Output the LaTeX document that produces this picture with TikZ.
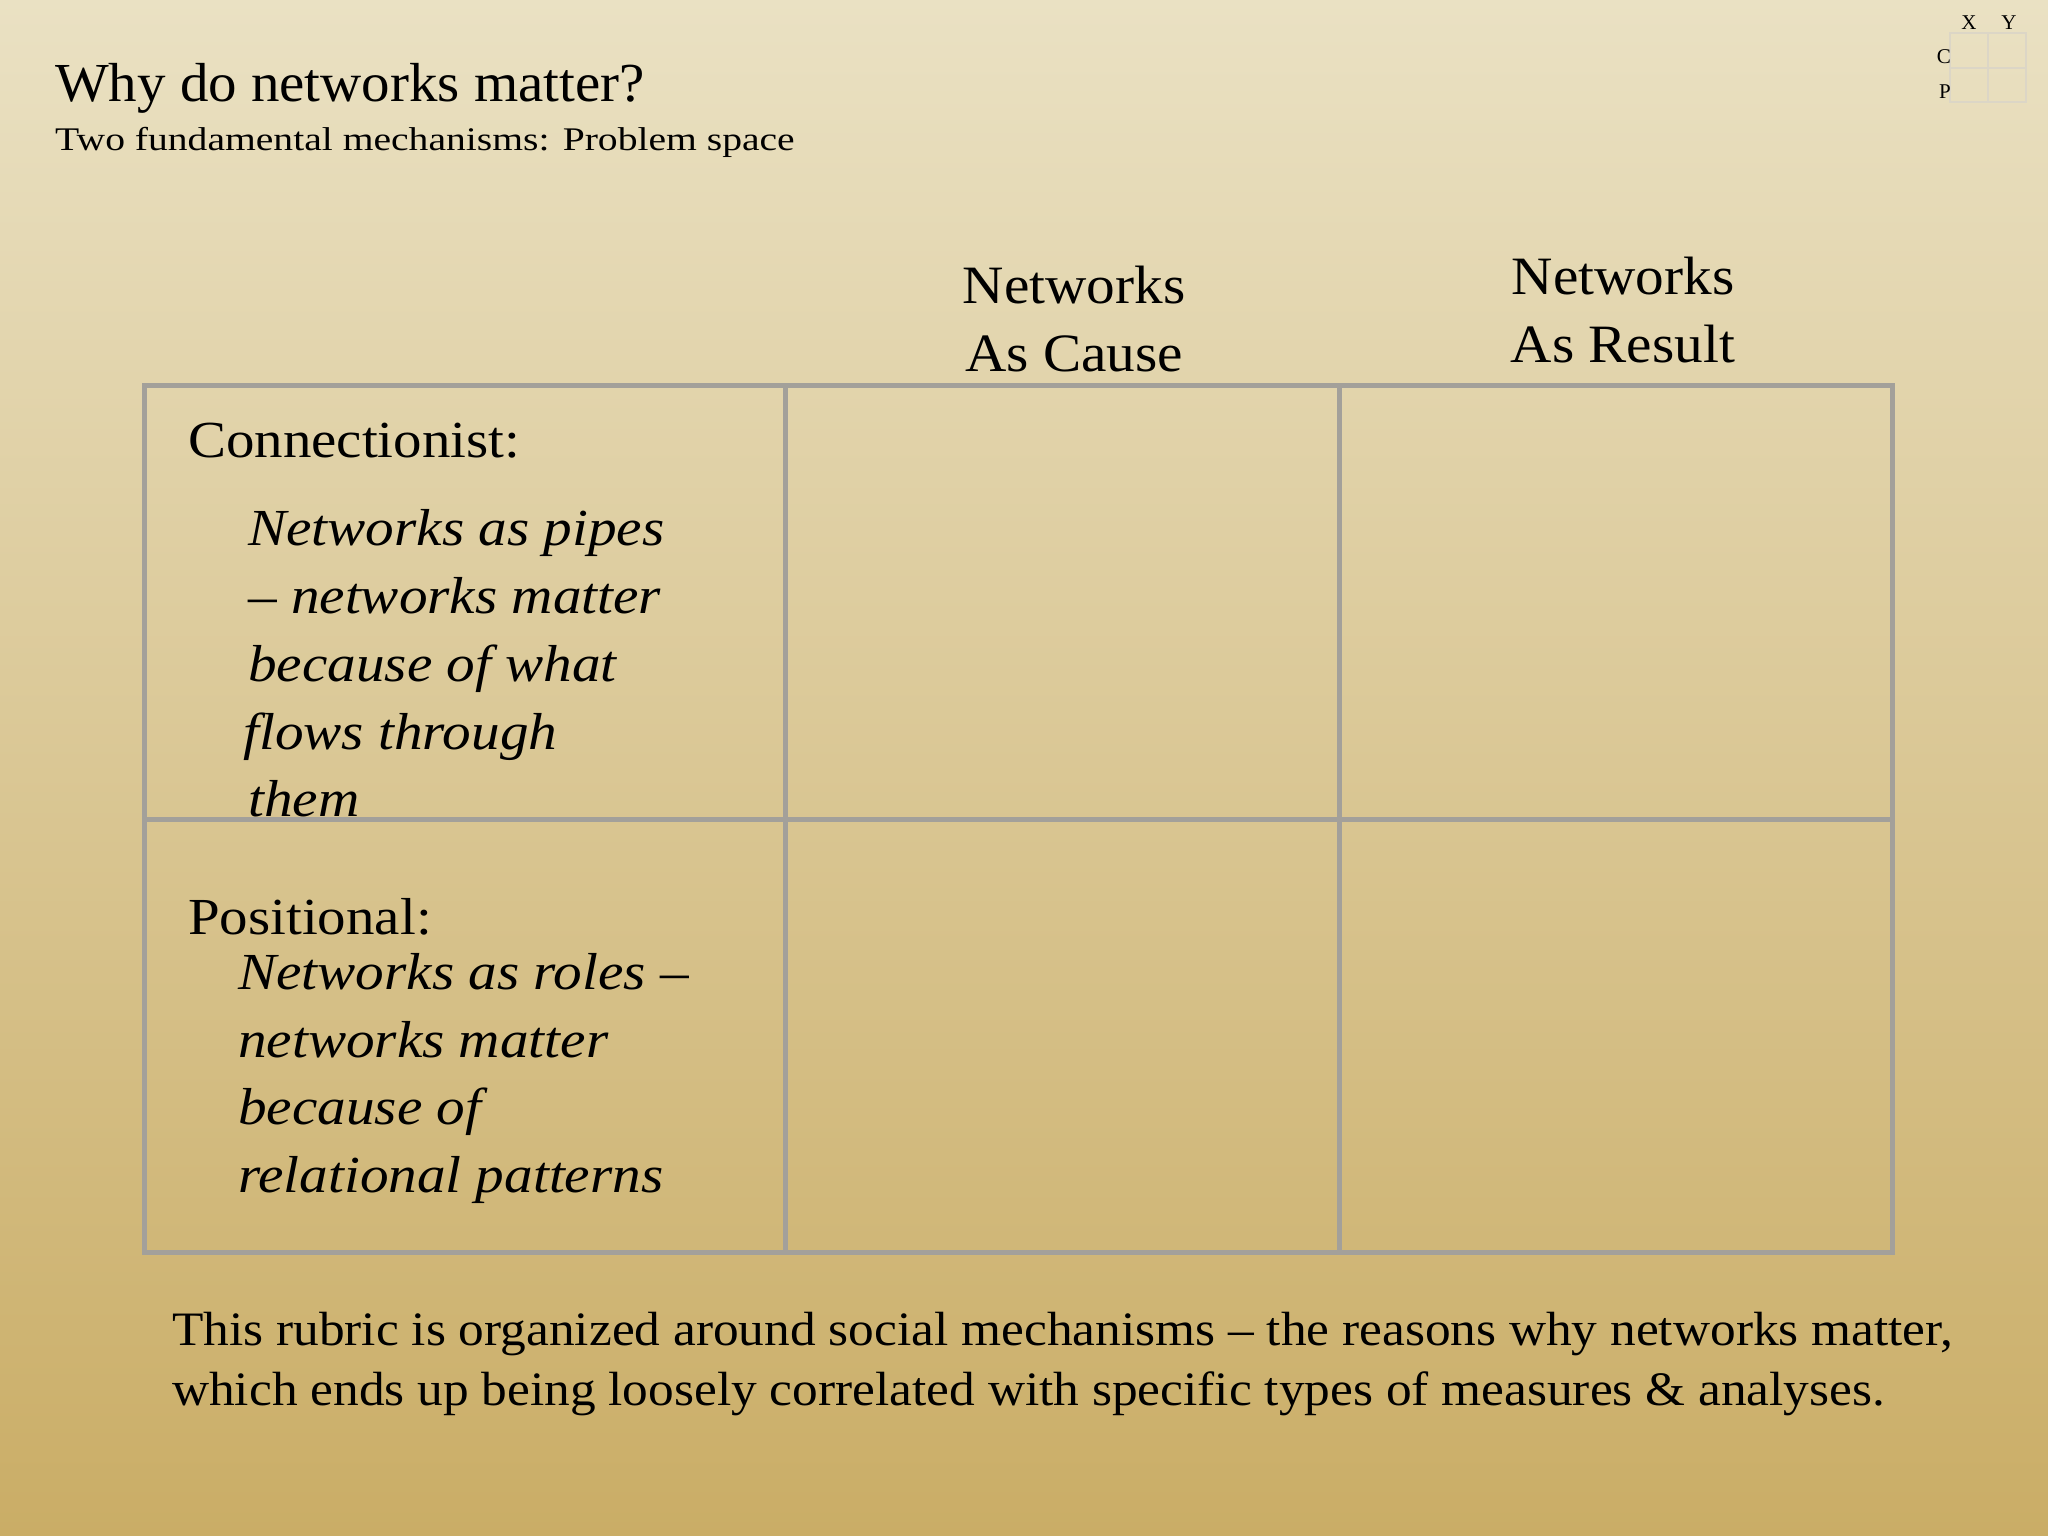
\documentclass[tikz,border=0pt]{standalone}
\usepackage{fontspec}
\setmainfont{Liberation Serif}
\newfontfamily\fA[FakeStretch=1.035]{Liberation Serif}
\newfontfamily\fB[FakeStretch=1.2]{Liberation Serif}
\newfontfamily\fC[FakeStretch=1.07]{Liberation Serif}
\newfontfamily\fD[FakeStretch=1.095]{Liberation Serif}
\newfontfamily\fE[FakeStretch=1.1]{Liberation Serif}
\newfontfamily\fH[FakeStretch=1.06]{Liberation Serif}
\definecolor{bgtop}{HTML}{EAE1C3}
\definecolor{bgbot}{HTML}{CAAD66}
\definecolor{gridc}{HTML}{A3A09A}
\definecolor{smallg}{HTML}{DCD6C6}
\begin{document}
\begin{tikzpicture}[x=1pt,y=-1pt,
  big/.style={anchor=base west,inner sep=0,font=\fD\fontsize{52}{60}\selectfont},
  bigit/.style={anchor=base west,inner sep=0,font=\fE\fontsize{52}{60}\selectfont\itshape},
  hdr/.style={anchor=base,inner sep=0,font=\fH\fontsize{54}{60}\selectfont},
  tiny/.style={inner sep=0,font=\fontsize{21}{24}\selectfont}]
\shade[top color=bgtop,bottom color=bgbot] (0,0) rectangle (2048,1536);
\useasboundingbox (0,0) rectangle (2048,1536);
\node[anchor=base west,inner sep=0,font=\fA\fontsize{55}{60}\selectfont] (title) at (55,102) {Why do networks matter?};
\node[anchor=base west,inner sep=0,font=\fB\fontsize{33}{40}\selectfont] (sub) at (55,150) {Two fundamental mechanisms: Problem space};
% small grid
\draw[smallg,line width=2] (1950,33) rectangle (2026,102) (1988,33) -- (1988,102) (1950,68) -- (2026,68);
\node[tiny,anchor=base] (sx) at (1969,30) {X};
\node[tiny,anchor=base] (sy) at (2009,30) {Y};
\node[tiny,anchor=base east] (sc) at (1951,64) {C};
\node[tiny,anchor=base east] (sp) at (1951,99) {P};
% headers
\node[hdr] (h1a) at (1074,303) {Networks};
\node[hdr] (h1b) at (1074,371) {As Cause};
\node[hdr] (h2a) at (1623,294) {Networks};
\node[hdr] (h2b) at (1623,362) {As Result};
% cell texts
\begin{scope}
\clip (144,385) rectangle (785,819);
\node[big] (conn) at (188,457) {Connectionist:};
\node[bigit] (c1) at (248,545) {Networks as pipes};
\node[bigit] (c2) at (248,613) {– networks matter};
\node[bigit] (c3) at (248,681) {because of what};
\node[bigit] (c4) at (243,749) {flows through};
\node[bigit] (c5) at (248,816) {them};
\end{scope}
\node[big] (pos) at (188,934) {Positional:};
\node[bigit] (p1) at (238,989) {Networks as roles –};
\node[bigit] (p2) at (238,1057) {networks matter};
\node[bigit] (p3) at (238,1124) {because of};
\node[bigit] (p4) at (238,1192) {relational patterns};
% grid
\draw[gridc,line width=5] (144,385) rectangle (1892,1252)
  (785,385) -- (785,1252) (1339,385) -- (1339,1252) (144,819) -- (1892,819);
% bottom
\node[anchor=base west,inner sep=0,font=\fC\fontsize{48}{60}\selectfont] (b1) at (172,1345) {This rubric is organized around social mechanisms – the reasons why networks matter,};
\node[anchor=base west,inner sep=0,font=\fC\fontsize{48}{60}\selectfont] (b2) at (172,1405) {which ends up being loosely correlated with specific types of measures \& analyses.};
\end{tikzpicture}
\end{document}
